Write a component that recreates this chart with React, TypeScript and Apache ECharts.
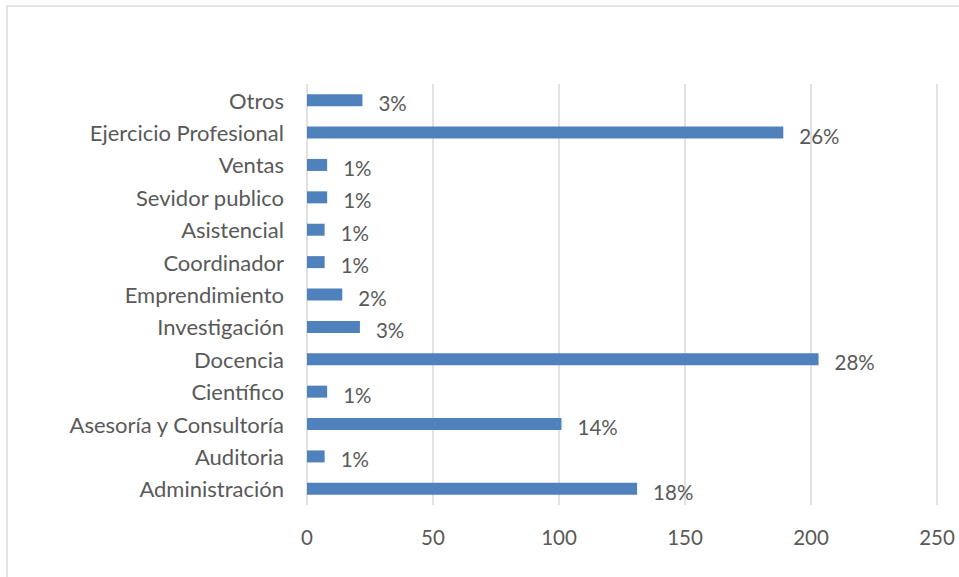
import React, { useEffect, useRef } from "react";
import * as echarts from "echarts";

const categories = [
  "Administración",
  "Auditoria",
  "Asesoría y Consultoría",
  "Científico",
  "Docencia",
  "Investigación",
  "Emprendimiento",
  "Coordinador",
  "Asistencial",
  "Sevidor publico",
  "Ventas",
  "Ejercicio Profesional",
  "Otros",
];
const values = [131, 7, 101, 8, 203, 21, 14, 7, 7, 8, 8, 189, 22];
const percentLabels = ["18%", "1%", "14%", "1%", "28%", "3%", "2%", "1%", "1%", "1%", "1%", "26%", "3%"];
const xTicks = { min: 0, max: 250, interval: 50 };

const FONT = "Lato";
const TEXT = "#595959";

export default function App() {
  const ref = useRef<HTMLDivElement>(null);
  useEffect(() => {
    const chart = echarts.init(ref.current!, null, { renderer: "svg" });
    chart.setOption({
      animation: false,
      backgroundColor: "#ffffff",
      textStyle: { fontFamily: FONT },
      graphic: [
        {
          type: "rect",
          shape: { x: 7, y: 6, width: 970, height: 600 },
          style: { fill: "none", stroke: "#d9d9d9", lineWidth: 1.5 },
          silent: true,
        },
      ],
      grid: { left: 307, right: 22, top: 84, bottom: 72, containLabel: false },
      xAxis: {
        type: "value",
        min: xTicks.min,
        max: xTicks.max,
        interval: xTicks.interval,
        axisLine: { show: false },
        axisTick: { show: false },
        splitLine: { show: true, lineStyle: { color: "#d9d9d9", width: 1.5 } },
        axisLabel: { color: TEXT, fontSize: 20.5, fontFamily: FONT, margin: 21 },
      },
      yAxis: {
        type: "category",
        data: categories,
        axisLine: { show: false },
        axisTick: { show: false },
        axisLabel: { color: TEXT, fontSize: 22, fontFamily: FONT, margin: 23 },
      },
      series: [
        {
          type: "bar",
          data: values.map((v, i) => ({ value: v, label: { formatter: percentLabels[i] } })),
          barWidth: 12,
          itemStyle: { color: "#4F81BD" },
          label: {
            show: true,
            position: "right",
            distance: 16,
            offset: [0, 3],
            color: TEXT,
            fontSize: 20.5,
            fontFamily: FONT,
          },
        },
      ],
    });
    return () => chart.dispose();
  }, []);
  return (
    <div
      ref={ref}
      style={{ position: "fixed", left: 0, top: 0, width: 959, height: 577, background: "#fff" }}
    />
  );
}
